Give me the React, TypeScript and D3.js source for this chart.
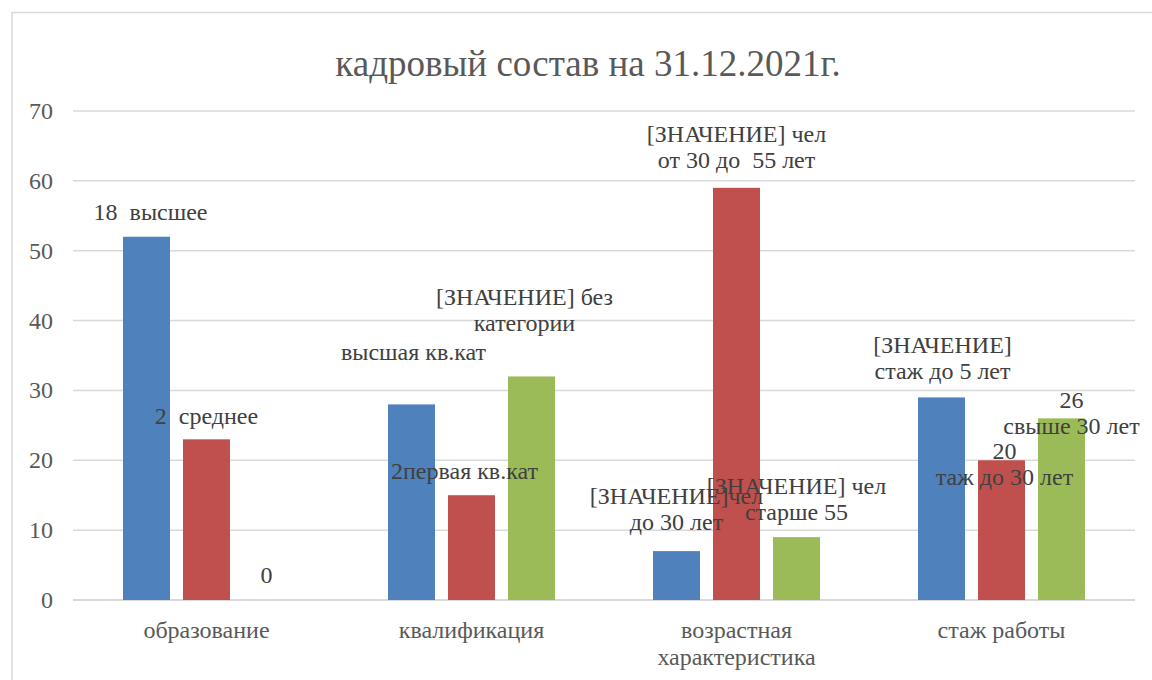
import React from 'react';
import * as d3 from 'd3';

// chart values
const title = 'кадровый состав на 31.12.2021г.';
const categories = ['образование', 'квалификация', 'возрастная\nхарактеристика', 'стаж работы'];
const seriesKeys = ['s1', 's2', 's3'];
const series1 = [52, 28, 7, 29];
const series2 = [23, 15, 59, 20];
const series3 = [0, 32, 9, 26];
const labels1 = ['18  высшее', 'высшая кв.кат', '[ЗНАЧЕНИЕ]чел\nдо 30 лет', '[ЗНАЧЕНИЕ]\nстаж до 5 лет'];
const labels2 = ['2  среднее', '2первая кв.кат', '[ЗНАЧЕНИЕ] чел\nот 30 до  55 лет', '20\nтаж до 30 лет'];
const labels3 = ['0', '[ЗНАЧЕНИЕ] без\nкатегории', '[ЗНАЧЕНИЕ] чел\nстарше 55', '26\nсвыше 30 лет'];
const yTicks = [0, 10, 20, 30, 40, 50, 60, 70];

// layout only: label nudges (px from bar centre / bar top to last line baseline)
const labelNudge = [
  [[4, -17], [2, -44], [0, -21], [1, -18]],
  [[0, -15], [-7, -16], [0, -20], [3, 25]],
  [[0, -17], [-7, -45], [0, -17], [10, 16]],
];

const colors = ['#4F81BD', '#C0504D', '#9BBB59'];
const font = 'Liberation Serif, Tinos, serif';
const W = 1152;
const H = 680;

const App = () => {
  const values = [series1, series2, series3];
  const labels = [labels1, labels2, labels3];

  const x = d3.scaleBand<number>().domain(d3.range(categories.length)).range([74, 1134]);
  const inner = d3
    .scaleBand<string>()
    .domain(seriesKeys)
    .range([-90, 90])
    .paddingInner(13 / 60)
    .paddingOuter(13 / 120);
  const y = d3.scaleLinear().domain([0, 70]).range([600, 111]);

  const lineH = 26;

  return (
    <svg width={W} height={H} style={{ position: 'absolute', left: 0, top: 0, background: '#fff' }}>
      <rect x={12} y={12.5} width={1200} height={720} fill="#fff" stroke="#D9D9D9" strokeWidth={1.5} />

      <text x={588} y={76} fontSize={37} fill="#595959" style={{ fontFamily: font, textAnchor: 'middle' }}>
        {title}
      </text>

      {/* gridlines + y labels */}
      {yTicks.map((t) => (
        <g key={t}>
          <line x1={73} x2={1135} y1={y(t)} y2={y(t)} stroke="#D9D9D9" strokeWidth={t === 0 ? 2 : 1.5} />
          <text x={53} y={y(t) + 8} fontSize={24} fill="#595959" style={{ fontFamily: font, textAnchor: 'end' }}>
            {t}
          </text>
        </g>
      ))}

      {/* bars */}
      {values.map((vals, si) =>
        vals.map((v, ci) => {
          const bx = (x(ci) as number) + x.bandwidth() / 2 + (inner(seriesKeys[si]) as number);
          return (
            <rect
              key={`b${si}-${ci}`}
              x={bx}
              y={y(v)}
              width={inner.bandwidth()}
              height={y(0) - y(v)}
              fill={colors[si]}
            />
          );
        })
      )}

      {/* data labels, drawn over all bars */}
      {values.map((vals, si) =>
        vals.map((v, ci) => {
          const cx =
            (x(ci) as number) + x.bandwidth() / 2 + (inner(seriesKeys[si]) as number) + inner.bandwidth() / 2;
          const [dx, dy] = labelNudge[si][ci];
          const lines = labels[si][ci].split('\n');
          const lastY = y(v) + dy;
          return lines.map((ln, i) => (
            <text
              key={`l${si}-${ci}-${i}`}
              x={cx + dx}
              y={lastY - (lines.length - 1 - i) * lineH}
              fontSize={24}
              fill="#404040"
              style={{ fontFamily: font, textAnchor: 'middle', whiteSpace: 'pre' }}
            >
              {ln}
            </text>
          ));
        })
      )}

      {/* category labels */}
      {categories.map((c, ci) => {
        const cx = (x(ci) as number) + x.bandwidth() / 2;
        return c.split('\n').map((ln, i) => (
          <text
            key={`c${ci}-${i}`}
            x={cx}
            y={638 + i * 27}
            fontSize={24}
            fill="#595959"
            style={{ fontFamily: font, textAnchor: 'middle' }}
          >
            {ln}
          </text>
        ));
      })}
    </svg>
  );
};

export default App;
